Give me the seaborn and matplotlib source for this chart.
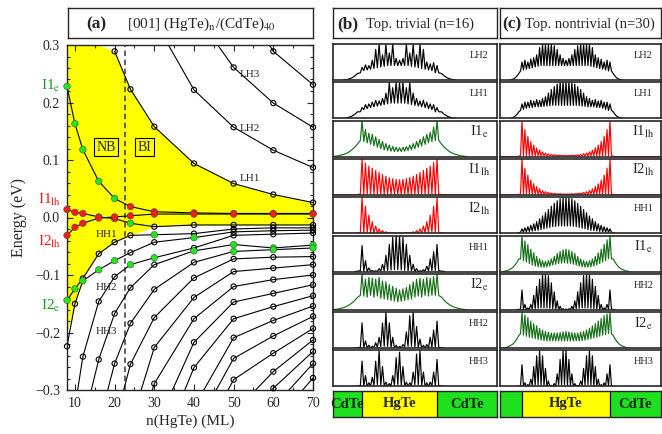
import numpy as np
import pandas as pd
import matplotlib
matplotlib.use("Agg")
import matplotlib.pyplot as plt
from matplotlib.ticker import MultipleLocator, FuncFormatter
import seaborn as sns

sns.set_style("ticks")
plt.rcParams["font.family"] = ["Liberation Serif", "DejaVu Serif"]
plt.rcParams["mathtext.fontset"] = "stix"

nan = np.nan
# ---------------- panel (a): subband energies (eV) vs n(HgTe) ----------------
N_ML = [8, 10, 12, 16, 20, 24, 30, 40, 50, 60, 70]

LH1 = [nan, nan, nan, nan, 0.289, 0.223, 0.158, 0.094, 0.059, 0.040, 0.026]
LH2 = [nan, nan, nan, nan, nan, nan, 0.343, 0.222, 0.157, 0.117, 0.087]
LH3 = [nan, nan, nan, nan, nan, nan, nan, 0.358, 0.261, 0.199, 0.157]
LH4 = [nan, nan, nan, nan, nan, nan, nan, nan, 0.400, 0.289, 0.231]
BAND_A = [0.228, 0.163, 0.118, 0.063, 0.033, 0.019, 0.010, 0.008, 0.007, 0.007, 0.007]
BAND_B = [0.014, 0.009, 0.007, 0.001, -0.002, -0.010, -0.016, -0.013, -0.013, -0.013, -0.013]
BAND_C = [-0.031, -0.017, -0.010, -0.001, 0.001, 0.003, 0.006, 0.006, 0.006, 0.006, 0.006]
L1 = [-0.144, -0.124, -0.106, -0.063, -0.043, -0.031, -0.030, -0.028, -0.020, -0.018, -0.018]
L2 = [-0.224, -0.150, -0.110, -0.091, -0.075, -0.061, -0.043, -0.035, -0.025, -0.023, -0.022]
L3 = [-0.360, -0.330, -0.242, -0.146, -0.103, -0.082, -0.070, -0.053, -0.031, -0.029, -0.027]
L4 = [nan, -0.420, -0.360, -0.247, -0.167, -0.122, -0.082, -0.058, -0.047, -0.053, -0.048]
L5 = [nan, nan, -0.450, -0.360, -0.254, -0.184, -0.125, -0.078, -0.059, -0.056, -0.053]
L6 = [nan, nan, nan, nan, -0.360, -0.255, -0.174, -0.105, -0.072, -0.069, -0.068]
L7 = [nan, nan, nan, nan, nan, -0.360, -0.226, -0.139, -0.094, -0.088, -0.082]
L8 = [nan, nan, nan, nan, nan, -0.420, -0.289, -0.176, -0.120, -0.108, -0.100]
L9 = [nan, nan, nan, nan, nan, nan, -0.370, -0.217, -0.147, -0.132, -0.117]
L10 = [nan, nan, nan, nan, nan, nan, -0.430, -0.261, -0.176, -0.155, -0.136]
L11 = [nan, nan, nan, nan, nan, nan, nan, -0.330, -0.209, -0.179, -0.154]
L12 = [nan, nan, nan, nan, nan, nan, nan, -0.370, -0.245, -0.206, -0.172]
L13 = [nan, nan, nan, nan, nan, nan, nan, -0.410, -0.282, -0.236, -0.193]
L14 = [nan, nan, nan, nan, nan, nan, nan, nan, -0.340, -0.268, -0.213]
L15 = [nan, nan, nan, nan, nan, nan, nan, nan, -0.370, -0.297, -0.233]
L16 = [nan, nan, nan, nan, nan, nan, nan, nan, nan, -0.330, -0.254]
L17 = [nan, nan, nan, nan, nan, nan, nan, nan, nan, -0.360, -0.279]

# character of each level (k: other, g: electron-like I_e, r: light-hole I_lh)
CURVES = {
    "LH1": (LH1, "kkkkkkkkkkk"), "LH2": (LH2, "kkkkkkkkkkk"),
    "LH3": (LH3, "kkkkkkkkkkk"), "LH4": (LH4, "kkkkkkkkkkk"),
    "A": (BAND_A, "gggggrrrrrr"), "B": (BAND_B, "rrrrrgkkkkk"),
    "C": (BAND_C, "rrrrrrrrrrr"),
    "L1": (L1, "ggkkkkgkkkk"), "L2": (L2, "kkgggkkgkkk"),
    "L3": (L3, "kkkkkggkkkk"), "L4": (L4, "kkkkkkkgggg"),
    "L5": (L5, "kkkkkkkkggg"), "L6": (L6, "kkkkkkkkkkk"),
    "L7": (L7, "kkkkkkkkkkk"), "L8": (L8, "kkkkkkkkkkk"),
    "L9": (L9, "kkkkkkkkkkk"), "L10": (L10, "kkkkkkkkkkk"),
    "L11": (L11, "kkkkkkkkkkk"), "L12": (L12, "kkkkkkkkkkk"),
    "L13": (L13, "kkkkkkkkkkk"), "L14": (L14, "kkkkkkkkkkk"),
    "L15": (L15, "kkkkkkkkkkk"), "L16": (L16, "kkkkkkkkkkk"),
    "L17": (L17, "kkkkkkkkkkk"),
}
YEL_HI = [0.300, 0.300, 0.300, 0.300, 0.289, 0.223, 0.158, 0.094, 0.059, 0.040, 0.026]
YEL_LO = [-0.200, -0.150, -0.106, -0.063, -0.043, -0.031, -0.016, -0.013, -0.013, -0.013, -0.013]
N_CRIT = 22.6

# ---------------- panels (b), (c): |psi|^2 profiles (% of panel height) ----------------
B_LH2_PK = [35, 42, 40, 55, 85, 100, 70, 100, 75, 100, 60, 55, 60, 100, 75, 100, 70, 100, 85, 50, 45, 48, 40]
B_LH2_TR = [20, 26, 28, 30, 32, 34, 36, 38, 40, 40, 40, 40, 40, 40, 40, 38, 36, 34, 32, 30, 28, 26, 20]
B_LH1_PK = [30, 38, 40, 45, 50, 48, 55, 70, 100, 85, 100, 100, 100, 85, 100, 70, 55, 48, 50, 45, 40, 38, 30]
B_LH1_TR = [18, 24, 27, 30, 32, 34, 36, 38, 40, 42, 42, 42, 42, 42, 40, 38, 36, 34, 32, 30, 27, 24, 18]
B_I1E_PK = [100, 75, 65, 62, 55, 48, 42, 36, 32, 28, 26, 25, 26, 28, 32, 36, 42, 48, 55, 62, 68, 82, 100]
B_I1E_TR = [45, 42, 38, 34, 30, 26, 22, 19, 17, 15, 14, 14, 14, 15, 17, 19, 22, 26, 30, 34, 38, 42, 45]
B_I1LH_PK = [100, 88, 80, 74, 68, 62, 57, 52, 48, 45, 43, 42, 43, 45, 48, 52, 57, 62, 68, 74, 80, 90, 100]
B_I1LH_TR = [2, 2, 2, 2, 2, 2, 2, 2, 2, 2, 2, 2, 2, 2, 2, 2, 2, 2, 2, 2, 2, 2, 2]
B_I2LH_PK = [100, 75, 50, 32, 20, 12, 7, 4, 2, 1, 0, 0, 0, 1, 2, 4, 7, 12, 20, 32, 50, 75, 100]
B_I2LH_TR = [2, 1, 1, 1, 0, 0, 0, 0, 0, 0, 0, 0, 0, 0, 0, 0, 0, 0, 0, 1, 1, 1, 2]
B_HH1_PK = [72, 30, 10, 3, 2, 8, 20, 45, 75, 95, 100, 100, 95, 75, 45, 20, 8, 2, 5, 15, 35, 55, 75]
B_HH1_TR = [2, 1, 0, 0, 0, 0, 1, 2, 3, 4, 5, 5, 4, 3, 2, 1, 0, 0, 0, 1, 1, 2, 2]
B_I2E_PK = [100, 85, 90, 88, 85, 90, 80, 78, 70, 65, 60, 55, 58, 62, 70, 78, 85, 88, 85, 90, 88, 92, 100]
B_I2E_TR = [40, 38, 35, 40, 35, 38, 32, 30, 28, 26, 24, 22, 24, 26, 28, 30, 35, 38, 35, 40, 38, 40, 40]
B_HH2_PK = [70, 20, 8, 5, 15, 30, 70, 100, 70, 30, 8, 5, 10, 45, 90, 100, 60, 25, 8, 10, 30, 50, 75]
B_HH2_TR = [2, 1, 0, 0, 1, 2, 4, 5, 4, 2, 0, 0, 1, 3, 5, 5, 3, 1, 0, 0, 1, 2, 2]
B_HH3_PK = [70, 30, 10, 25, 70, 100, 55, 12, 8, 30, 80, 95, 55, 12, 10, 40, 90, 100, 40, 10, 12, 40, 75]
B_HH3_TR = [2, 1, 0, 1, 3, 5, 3, 1, 0, 1, 4, 5, 3, 1, 0, 2, 5, 5, 2, 0, 0, 1, 2]

C_LH2_PK = [50, 55, 50, 58, 62, 70, 90, 100, 100, 100, 100, 95, 85, 70, 60, 55, 60, 70, 85, 95, 100, 100, 100, 100, 90, 70, 62, 58, 50, 55, 50]
C_LH2_TR = [25, 28, 30, 32, 34, 36, 38, 40, 40, 40, 40, 40, 40, 40, 40, 40, 40, 40, 40, 40, 40, 40, 40, 40, 38, 36, 34, 32, 30, 28, 25]
C_LH1_PK = [40, 45, 45, 50, 48, 52, 50, 55, 60, 70, 80, 88, 95, 100, 100, 100, 100, 100, 95, 88, 80, 70, 60, 55, 50, 52, 48, 50, 45, 45, 40]
C_LH1_TR = [22, 25, 28, 30, 30, 32, 32, 32, 33, 34, 35, 36, 36, 36, 36, 36, 36, 36, 36, 36, 35, 34, 33, 32, 32, 32, 30, 30, 28, 25, 22]
C_I1LH_PK = [100, 75, 56, 42, 32, 24, 18, 13, 10, 8, 6, 5, 4, 4, 3, 3, 3, 4, 4, 5, 6, 8, 10, 13, 18, 24, 32, 42, 56, 75, 100]
C_I1LH_TR = [3, 3, 2, 2, 2, 2, 2, 2, 2, 2, 2, 2, 2, 2, 2, 2, 2, 2, 2, 2, 2, 2, 2, 2, 2, 2, 2, 2, 2, 3, 3]
C_I2LH_PK = [100, 74, 55, 41, 31, 23, 17, 12, 9, 7, 5, 4, 3, 3, 2, 2, 2, 3, 3, 4, 5, 7, 9, 12, 17, 23, 31, 41, 55, 74, 100]
C_I2LH_TR = [3, 3, 2, 2, 2, 2, 2, 2, 2, 2, 2, 2, 2, 2, 2, 2, 2, 2, 2, 2, 2, 2, 2, 2, 2, 2, 2, 2, 2, 3, 3]
C_HH1_PK = [12, 15, 18, 22, 26, 32, 40, 48, 57, 66, 75, 83, 90, 96, 99, 100, 99, 96, 90, 83, 75, 66, 57, 48, 40, 32, 26, 22, 18, 15, 12]
C_HH1_TR = [3, 3, 4, 5, 6, 7, 8, 10, 12, 14, 16, 18, 19, 20, 20, 20, 20, 20, 19, 18, 16, 14, 12, 10, 8, 7, 6, 5, 4, 3, 3]
C_I1E_PK = [100, 85, 75, 62, 52, 42, 35, 30, 28, 30, 35, 42, 50, 56, 60, 62, 60, 56, 50, 42, 35, 30, 28, 30, 35, 42, 52, 62, 75, 88, 100]
C_I1E_TR = [35, 30, 26, 22, 18, 15, 13, 12, 12, 13, 15, 18, 20, 22, 23, 24, 23, 22, 20, 18, 15, 13, 12, 12, 13, 15, 18, 22, 26, 30, 35]
C_HH2_PK = [55, 15, 5, 15, 40, 65, 85, 100, 100, 95, 75, 50, 25, 10, 3, 2, 3, 10, 25, 50, 75, 95, 100, 100, 85, 65, 40, 15, 5, 15, 55]
C_HH2_TR = [2, 1, 0, 1, 2, 3, 4, 5, 5, 5, 4, 3, 1, 0, 0, 0, 0, 0, 1, 3, 4, 5, 5, 5, 4, 3, 2, 1, 0, 1, 2]
C_I2E_PK = [100, 92, 85, 75, 68, 62, 55, 50, 46, 44, 42, 42, 42, 43, 45, 46, 45, 43, 42, 42, 44, 46, 50, 55, 62, 68, 75, 82, 90, 95, 100]
C_I2E_TR = [40, 36, 33, 30, 28, 26, 24, 22, 21, 20, 20, 20, 20, 20, 20, 20, 20, 20, 20, 20, 20, 21, 22, 24, 26, 28, 30, 33, 36, 38, 40]
C_HH3_PK = [60, 10, 5, 20, 55, 85, 100, 85, 50, 15, 3, 8, 35, 75, 100, 100, 75, 35, 8, 3, 15, 50, 85, 100, 85, 55, 20, 5, 10, 35, 60]
C_HH3_TR = [2, 1, 0, 1, 3, 4, 5, 4, 3, 1, 0, 0, 2, 4, 5, 5, 4, 2, 0, 0, 1, 3, 4, 5, 4, 3, 1, 0, 0, 1, 2]

TAIL_E = [35, 26, 19, 13, 9, 6, 4, 2, 1, 0]
TAIL_LH = [18, 11, 6, 3, 1, 0]
TAIL_HH = [1, 0]
TAIL_R = [1, 0]

PANELS_B = [("LH2", B_LH2_PK, B_LH2_TR, "k", TAIL_LH),
            ("LH1", B_LH1_PK, B_LH1_TR, "k", TAIL_LH),
            ("I1$_{\\rm e}$", B_I1E_PK, B_I1E_TR, "g", TAIL_E),
            ("I1$_{\\rm lh}$", B_I1LH_PK, B_I1LH_TR, "r", TAIL_R),
            ("I2$_{\\rm lh}$", B_I2LH_PK, B_I2LH_TR, "r", TAIL_R),
            ("HH1", B_HH1_PK, B_HH1_TR, "k", TAIL_HH),
            ("I2$_{\\rm e}$", B_I2E_PK, B_I2E_TR, "g", TAIL_E),
            ("HH2", B_HH2_PK, B_HH2_TR, "k", TAIL_HH),
            ("HH3", B_HH3_PK, B_HH3_TR, "k", TAIL_HH)]
PANELS_C = [("LH2", C_LH2_PK, C_LH2_TR, "k", TAIL_LH),
            ("LH1", C_LH1_PK, C_LH1_TR, "k", TAIL_LH),
            ("I1$_{\\rm lh}$", C_I1LH_PK, C_I1LH_TR, "r", TAIL_R),
            ("I2$_{\\rm lh}$", C_I2LH_PK, C_I2LH_TR, "r", TAIL_R),
            ("HH1", C_HH1_PK, C_HH1_TR, "k", TAIL_HH),
            ("I1$_{\\rm e}$", C_I1E_PK, C_I1E_TR, "g", TAIL_E),
            ("HH2", C_HH2_PK, C_HH2_TR, "k", TAIL_HH),
            ("I2$_{\\rm e}$", C_I2E_PK, C_I2E_TR, "g", TAIL_E),
            ("HH3", C_HH3_PK, C_HH3_TR, "k", TAIL_HH)]

# ---------------- drawing ----------------
W, H = 662, 434
fig = plt.figure(figsize=(W / 100, H / 100), dpi=100)


def rect(x0, y0, x1, y1):
    return [x0 / W, 1 - y1 / H, (x1 - x0) / W, (y1 - y0) / H]


MK = {"g": "#1ee81e", "r": "#ff1a1a"}
LINE_C = {"k": "black", "g": "#18701a", "r": "#ff0000"}
YELLOW = "#ffff00"
BOXGREEN = "#1ee01e"

# ---- (a) ----
ax = fig.add_axes(rect(67, 45, 313, 390))
ax.fill_between(N_ML, YEL_LO, YEL_HI, color=YELLOW, lw=0, zorder=0)
ax.axvline(N_CRIT, color="#555555", ls=(0, (3, 2)), lw=1.3, zorder=1)

rows, pts = [], []
for name, (vals, cols) in CURVES.items():
    for n, v, c in zip(N_ML, vals, cols):
        if not np.isnan(v):
            rows.append((name, n, v))
            if -0.302 <= v <= 0.302:
                pts.append((n, v, c))
df_lines = pd.DataFrame(rows, columns=["curve", "n", "E"])
df_pts = pd.DataFrame(pts, columns=["n", "E", "c"])

sns.lineplot(data=df_lines, x="n", y="E", units="curve", estimator=None, sort=False,
             color="black", lw=0.8, ax=ax, legend=False, zorder=2)
k_pts = df_pts[df_pts.c == "k"]
ax.scatter(k_pts.n, k_pts.E, s=14, facecolors="none", edgecolors="black",
           linewidths=0.8, zorder=4, clip_on=False)
c_pts = df_pts[df_pts.c != "k"]
sns.scatterplot(data=c_pts, x="n", y="E", hue="c", palette=MK, s=22, edgecolor="#444444",
                linewidth=0.4, ax=ax, legend=False, zorder=5, clip_on=False)

ax.set_xlim(8, 70)
ax.set_ylim(-0.3, 0.3)
ax.set_xticks([10, 20, 30, 40, 50, 60, 70])
ax.set_yticks([-0.3, -0.2, -0.1, 0.0, 0.1, 0.2, 0.3])
ax.xaxis.set_minor_locator(MultipleLocator(5))
ax.yaxis.set_minor_locator(MultipleLocator(0.02))
ax.yaxis.set_major_formatter(FuncFormatter(
    lambda v, p: ("%.1f" % (0.0 if abs(v) < 1e-9 else v)).replace("-", "\u2212")))
ax.tick_params(which="both", direction="in", top=True, right=True, labelsize=10, width=0.8)
ax.tick_params(which="major", length=4, pad=5)
ax.tick_params(which="minor", length=2)
for s in ax.spines.values():
    s.set_linewidth(1.0)
ax.set_xlabel("n(HgTe) (ML)", fontsize=11, labelpad=3)
ax.set_ylabel("Energy (eV)", fontsize=11.5, labelpad=6)

for txt, xx, yy in [("LH3", 54, 0.249), ("LH2", 54, 0.155), ("LH1", 54, 0.068),
                    ("HH1", 18, -0.030), ("HH2", 18, -0.122), ("HH3", 18, -0.198)]:
    ax.text(xx, yy, txt, fontsize=8, ha="center", va="center", zorder=6)
for txt, xx in [("NB", 17.8), ("BI", 27.6)]:
    ax.text(xx, 0.122, txt, fontsize=10, ha="center", va="center", zorder=6,
            bbox=dict(boxstyle="square,pad=0.18", fc="none", ec="black", lw=0.8))

tr = ax.get_yaxis_transform()
for txt, yy, col in [("I1$_{\\rm e}$", 0.228, "#1a9a1a"), ("I1$_{\\rm lh}$", 0.031, "#ff1a1a"),
                     ("I2$_{\\rm lh}$", -0.042, "#ff1a1a"), ("I2$_{\\rm e}$", -0.153, "#1a9a1a")]:
    ax.text(-0.025, yy, txt, transform=tr, color=col, fontsize=11, ha="right", va="center")

# ---- title boxes ----
def title_box(x0, x1, parts):
    t = fig.add_axes(rect(x0, 8, x1, 38))
    t.set_xticks([]); t.set_yticks([])
    for s in t.spines.values():
        s.set_linewidth(1.0)
    for px, txt, bold, fs in parts:
        t.text((px - x0) / (x1 - x0), 0.47, txt, transform=t.transAxes, ha="left", va="center",
               fontsize=fs, fontweight="bold" if bold else "normal")


title_box(68, 313, [(86, "(a)", True, 12.5), (127, "[001] (HgTe)$_{\\rm n}$/(CdTe)$_{40}$", False, 11)])
title_box(333, 497, [(337, "(b)", True, 12.5), (366, "Top. trivial (n=16)", False, 10.5)])
title_box(500, 661, [(502, "(c)", True, 12.5), (525, "Top. nontrivial (n=30)", False, 10.5)])

# ---- profiles ----
def profile(n, peaks, troughs, tail, step, xl, xr, full):
    N = len(peaks)
    h = n / (N - 1)
    zs, ys = [], []
    for k in range(len(tail) - 1, -1, -1):
        zs.append(-h / 2 - (k + 1) * step); ys.append(tail[k])
    for i in range(N):
        zs.append(i * h - h / 2); ys.append(troughs[i])
        zs.append(i * h); ys.append(peaks[i])
    zs.append(n + h / 2); ys.append(troughs[-1])
    for k in range(len(tail)):
        zs.append(n + h / 2 + (k + 1) * step); ys.append(tail[k])
    if full:
        zs = [xl] + zs + [xr]
        ys = [0] + ys + [0]
    return pd.DataFrame({"z": zs, "psi": np.array(ys, float) / 100.0})


COLS = [(333, 497, 16, -6.2, 28.8, PANELS_B, [(-6.2, 0, BOXGREEN, "CdTe"), (0, 16, YELLOW, "HgTe"), (16, 28.8, BOXGREEN, "CdTe")]),
        (500, 661, 30, -7.5, 47.4, PANELS_C, [(-7.5, 0, BOXGREEN, ""), (0, 30, YELLOW, "HgTe"), (30, 47.4, BOXGREEN, "CdTe")])]

for x0, x1, n, xl, xr, panels, strip in COLS:
    for j, (lab, pk, trh, ck, tail) in enumerate(panels):
        top = 44 + j * 38.3
        axp = fig.add_axes(rect(x0, top, x1, top + 36))
        dfp = profile(n, pk, trh, tail, 0.6, xl, xr, ck == "r")
        sns.lineplot(data=dfp, x="z", y="psi", sort=False, estimator=None,
                     color=LINE_C[ck], lw=0.85, ax=axp, legend=False)
        axp.set_xlim(xl, xr)
        axp.set_ylim(0, 1.0)
        axp.set_xticks([]); axp.set_yticks([])
        axp.set_xlabel(""); axp.set_ylabel("")
        for s in axp.spines.values():
            s.set_linewidth(1.2)
        big = lab.startswith("I")
        axp.text(0.89, 0.68, lab, transform=axp.transAxes, ha="center", va="center",
                 fontsize=10.5 if big else 7.5)
    axs = fig.add_axes(rect(x0, 391, x1, 417))
    for a, b, col, txt in strip:
        axs.axvspan(a, b, color=col, lw=0)
        if txt:
            axs.text((a + b) / 2, 0.5, txt, ha="center", va="center", fontsize=10.5,
                     fontweight="bold", transform=axs.get_xaxis_transform())
    for a, b, col, txt in strip[1:]:
        axs.axvline(a, color="black", lw=0.9)
    axs.set_xlim(xl, xr)
    axs.set_ylim(0, 1)
    axs.set_xticks([]); axs.set_yticks([])
    for s in axs.spines.values():
        s.set_linewidth(1.0)

fig.savefig("out.png", dpi=100, facecolor="white")
